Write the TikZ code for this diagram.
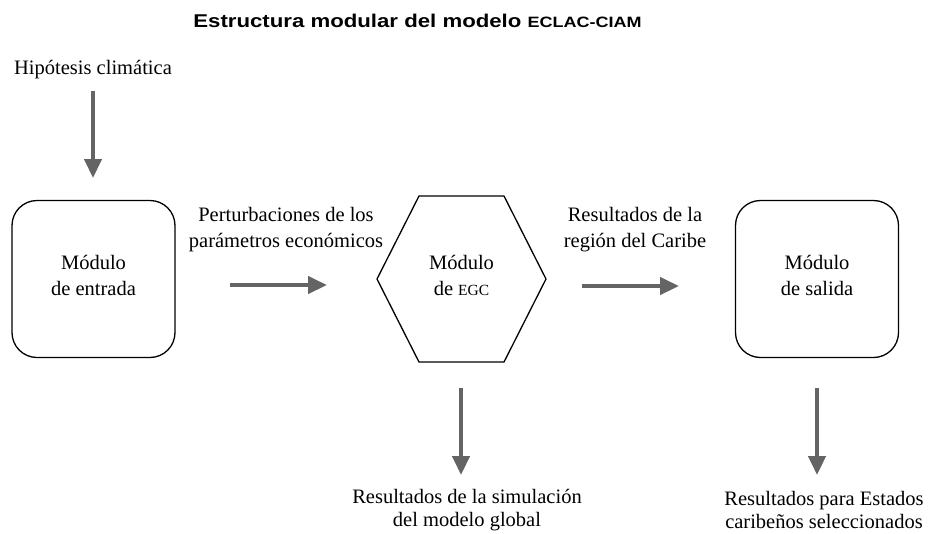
\documentclass[tikz,border=0pt]{standalone}
\usepackage{fontspec}
\usepackage{graphicx}
\setmainfont{Liberation Serif}
\newfontfamily\titlefont{Liberation Sans}
\usetikzlibrary{arrows.meta}
\definecolor{arrowgray}{RGB}{100,100,100}
\tikzset{
  txt/.style={font=\fontsize{20.5}{26}\selectfont, inner sep=0pt, align=center},
  txtb/.style={font=\fontsize{20.5}{23}\selectfont, inner sep=0pt, align=center},
  modbox/.style={draw=black, line width=1.3pt, rounded corners=25pt, minimum width=163pt, minimum height=157pt, inner sep=0pt, align=center, font=\fontsize{20.5}{26}\selectfont, text depth=8pt},
  modtxt/.style={inner sep=0pt, align=center, font=\fontsize{20.5}{26}\selectfont, text depth=8pt},
  hexline/.style={draw=black, line width=1.3pt, line join=miter},
  flow/.style={draw=arrowgray, line width=4.5pt, -{Triangle[length=19pt,width=17pt]}},
}
\begin{document}
\begin{tikzpicture}[x=1pt,y=-1pt]
\useasboundingbox (0,0) rectangle (929,533);
% title
\node[anchor=base, inner sep=0pt, font=\titlefont\bfseries\fontsize{18.5}{22}\selectfont] (title) at (417.5,27) {\scalebox{1.2}[1]{Estructura modular del modelo {\fontsize{15}{18}\selectfont ECLAC-CIAM}}};
% hypothesis
\node[anchor=base, inner sep=0pt, font=\fontsize{20.5}{26}\selectfont] (hyp) at (93,74) {Hipótesis climática};
% modules
\node[modbox] (in) at (93.5,279) {Módulo\\de entrada};
\node[modbox] (out) at (817,279) {Módulo\\de salida};
\coordinate (h1) at (419,196);
\coordinate (h2) at (504,196);
\coordinate (h3) at (546,279);
\coordinate (h4) at (504,362);
\coordinate (h5) at (419,362);
\coordinate (h6) at (377,279);
\draw[hexline] (h1) -- (h2) -- (h3) -- (h4) -- (h5) -- (h6) -- cycle;
\node[modtxt] (egc) at (461.5,279) {Módulo\\de {\fontsize{15.5}{18}\selectfont EGC}};
% labels
\node[txt] (pert) at (286,230) {Perturbaciones de los\\parámetros económicos};
\node[txt] (res) at (635,230) {Resultados de la\\región del Caribe};
\node[txtb] (sim) at (467,510) {Resultados de la simulación\\del modelo global};
\node[txtb] (car) at (824,510) {Resultados para Estados\\caribeños seleccionados};
% arrows
\coordinate (a1s) at (93,91);   \coordinate (a1e) at (93,178);
\coordinate (a2s) at (230,285); \coordinate (a2e) at (327,285);
\coordinate (a3s) at (582,286); \coordinate (a3e) at (679,286);
\coordinate (a4s) at (461,388); \coordinate (a4e) at (461,475);
\coordinate (a5s) at (817,388); \coordinate (a5e) at (817,475);
\draw[flow] (a1s) -- (a1e);
\draw[flow] (a2s) -- (a2e);
\draw[flow] (a3s) -- (a3e);
\draw[flow] (a4s) -- (a4e);
\draw[flow] (a5s) -- (a5e);
\end{tikzpicture}
\end{document}
